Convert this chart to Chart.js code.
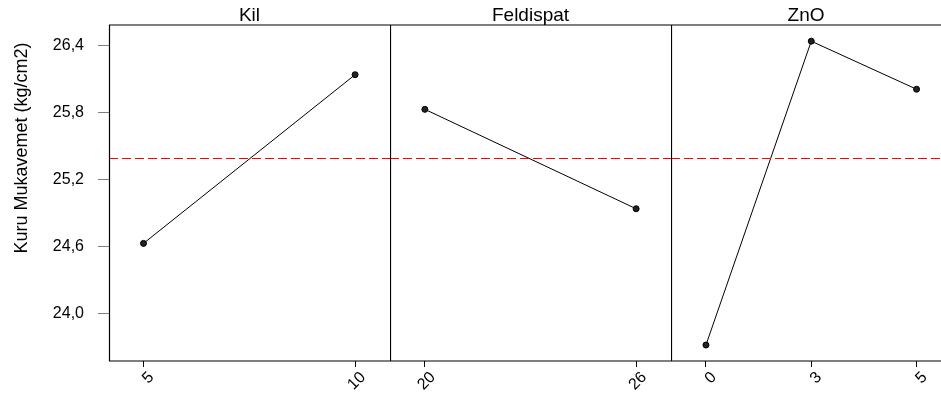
<!DOCTYPE html>
<html>
<head>
<meta charset="utf-8">
<script src="https://cdn.jsdelivr.net/npm/chart.js@4.4.1/dist/chart.umd.min.js"></script>
<style>
  body { margin: 0; background: #fff; }
  #wrap { position: relative; width: 941px; height: 397px; overflow: hidden; }
  #wrap canvas { position: absolute; top: 0; }
</style>
</head>
<body>
<div id="wrap">
  <canvas id="c1" width="390" height="397" style="left:0px"></canvas>
  <canvas id="c2" width="281" height="397" style="left:390px"></canvas>
  <canvas id="c3" width="270" height="397" style="left:671px"></canvas>
</div>
<script>
// factor levels and mean response per level
const kilLevels = ['5', '10'];
const kilMeans = [24.63, 26.14];
const feldLevels = ['20', '26'];
const feldMeans = [25.83, 24.94];
const znoLevels = ['0', '3', '5'];
const znoMeans = [23.72, 26.44, 26.01];
const grandMean = 25.39;
const yTicks = [24.0, 24.6, 25.2, 25.8, 26.4];
const yTitle = 'Kuru Mukavemet (kg/cm2)';

const FONT = "'Liberation Sans', Arial, sans-serif";
const Y_MIN = 23.577, Y_MAX = 26.585;

// panel frame + title + grand mean line
const panelPlugin = {
  id: 'panel',
  afterDatasetsDraw(chart, args, opts) {
    const {ctx, chartArea: a, scales} = chart;
    ctx.save();
    // mean line
    const ym = scales.y.getPixelForValue(grandMean);
    ctx.strokeStyle = '#ff0000';
    ctx.lineWidth = 1.2;
    ctx.setLineDash([9, 4]);
    ctx.beginPath();
    ctx.moveTo(a.left, ym);
    ctx.lineTo(a.right, ym);
    ctx.stroke();
    ctx.setLineDash([]);
    // frame
    ctx.strokeStyle = '#000';
    ctx.lineWidth = 1.2;
    ctx.beginPath();
    ctx.moveTo(a.left + 0.5, a.bottom);
    ctx.lineTo(a.left + 0.5, a.top);
    ctx.lineTo(a.right, a.top);
    ctx.moveTo(a.left, a.bottom);
    ctx.lineTo(a.right, a.bottom);
    ctx.stroke();
    // title
    ctx.fillStyle = '#000';
    ctx.font = '19px ' + FONT;
    ctx.textAlign = 'center';
    ctx.textBaseline = 'alphabetic';
    ctx.fillText(opts.title, (a.left + a.right) / 2, 21);
    // y axis title (sits above centre like the original)
    if (opts.yTitle) {
      ctx.translate(22, 148);
      ctx.rotate(-Math.PI / 2);
      ctx.font = '18px ' + FONT;
      ctx.textBaseline = 'middle';
      ctx.fillText(opts.yTitle, 0, 0);
    }
    ctx.restore();
  }
};

function makePanel(id, title, levels, means, xMin, xMax, showY) {
  const pts = means.map((v, i) => ({x: i, y: v}));
  const cfg = {
    type: 'line',
    data: {
      datasets: [{
        data: pts,
        borderColor: '#000',
        borderWidth: 1,
        backgroundColor: '#222',
        pointBackgroundColor: '#222',
        pointBorderColor: '#000',
        pointBorderWidth: 1,
        pointRadius: 3,
        tension: 0
      }]
    },
    options: {
      responsive: false,
      animation: false,
      layout: {autoPadding: false, padding: {top: 25, left: 0, right: 0, bottom: 0}},
      plugins: {
        legend: {display: false},
        tooltip: {enabled: false},
        panel: {title: title, yTitle: showY ? yTitle : null}
      },
      scales: {
        x: {
          type: 'linear',
          min: xMin,
          max: xMax,
          afterBuildTicks: (s) => { s.ticks = levels.map((l, i) => ({value: i})); },
          afterFit: (s) => { s.height = 36; s.paddingLeft = 0; s.paddingRight = 0; },
          border: {display: false},
          grid: {drawOnChartArea: false, color: '#000', tickLength: 6},
          ticks: {
            minRotation: 45,
            maxRotation: 45,
            labelOffset: 8,
            padding: 1,
            color: '#000',
            font: {family: FONT, size: 16},
            callback: (v) => levels[v]
          }
        },
        y: {
          display: showY,
          min: Y_MIN,
          max: Y_MAX,
          afterBuildTicks: (s) => { s.ticks = yTicks.map(v => ({value: v})); },
          afterFit: (s) => { s.width = showY ? 109 : 0; },
          border: {display: false},
          grid: {drawOnChartArea: false, color: '#808080', tickLength: 11},
          ticks: {
            padding: 14,
            color: '#000',
            font: {family: FONT, size: 16},
            callback: (v) => v.toFixed(1).replace('.', ',')
          },
          title: {display: false}
        }
      }
    },
    plugins: [panelPlugin]
  };
  return new Chart(document.getElementById(id), cfg);
}

makePanel('c1', 'Kil', kilLevels, kilMeans, -0.163, 1.165, true);
makePanel('c2', 'Feldispat', feldLevels, feldMeans, -0.165, 1.165, false);
makePanel('c3', 'ZnO', znoLevels, znoMeans, -0.332, 2.232, false);
</script>
</body>
</html>
